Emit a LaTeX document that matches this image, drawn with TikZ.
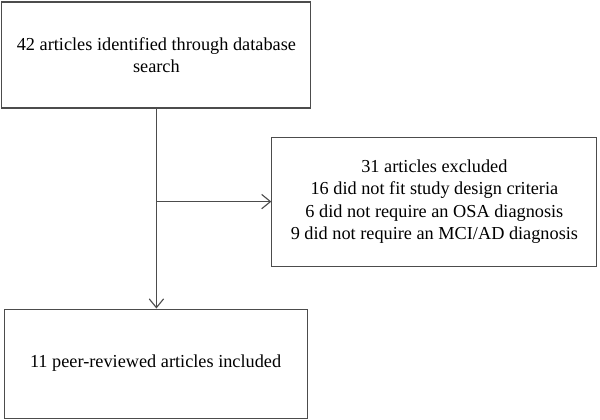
\documentclass[tikz,border=0pt]{standalone}
\usepackage{fontspec}
\setmainfont{Liberation Serif}
\usetikzlibrary{arrows.meta}
\tikzset{
  flowbox/.style={rectangle, draw=black!70, line width=0.8pt, align=center,
    font=\fontsize{13}{16}\selectfont},
  flowarrow/.style={-{Straight Barb[length=2.2mm, width=3.6mm]}, draw=black!70, line width=0.8pt}
}
\begin{document}
\begin{tikzpicture}
        \useasboundingbox (0, 0) rectangle (15, 10.5);
        % Boxes
        \node[flowbox, minimum width=7.725cm, minimum height=2.65cm] (found) at (3.91, 9.125)
          {42 articles identified through database\\search};
        \node[flowbox, minimum width=8.125cm, minimum height=3.225cm] (excluded) at (10.86, 5.46)
          {31 articles excluded\\16 did not fit study design criteria\\6 did not require an OSA diagnosis\\9 did not require an MCI/AD diagnosis};
        \node[flowbox, minimum width=7.575cm, minimum height=2.725cm] (included) at (3.89, 1.41)
          {11 peer-reviewed articles included};

        % Connections
        \coordinate (split) at (found.south |- excluded.west);
        \draw[flowarrow] (found.south) -- (found.south |- included.north);
        \draw[flowarrow] (split) -- (excluded.west);
\end{tikzpicture}
\end{document}
